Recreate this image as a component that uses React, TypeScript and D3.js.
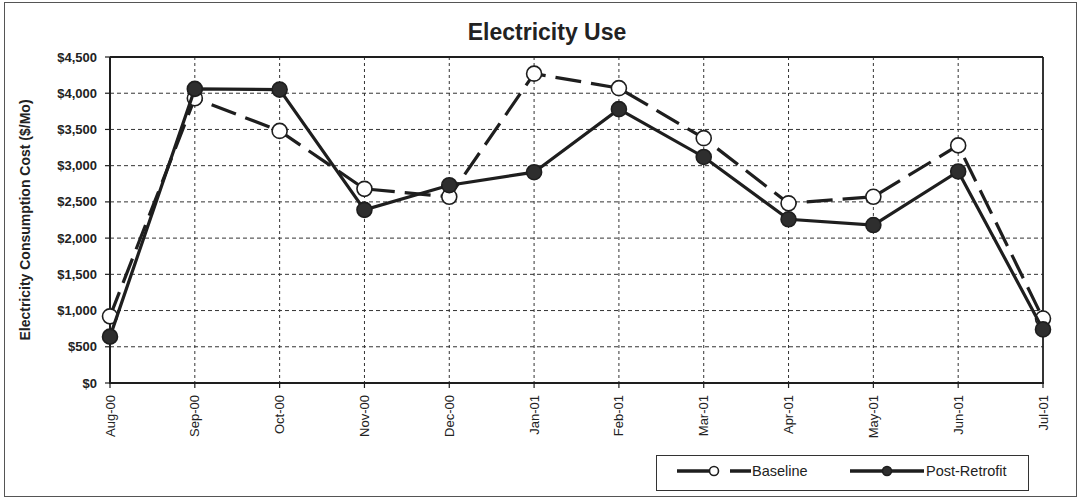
import React from "react";
import * as d3 from "d3";

const months = ["Aug-00", "Sep-00", "Oct-00", "Nov-00", "Dec-00", "Jan-01", "Feb-01", "Mar-01", "Apr-01", "May-01", "Jun-01", "Jul-01"];
const baseline = [920, 3930, 3480, 2680, 2570, 4270, 4070, 3380, 2480, 2570, 3280, 890];
const postRetrofit = [640, 4060, 4050, 2390, 2730, 2910, 3780, 3120, 2260, 2180, 2920, 740];
const yTicks = [0, 500, 1000, 1500, 2000, 2500, 3000, 3500, 4000, 4500];
const title = "Electricity Use";
const yLabel = "Electricity Consumption Cost ($/Mo)";
const seriesNames = ["Baseline", "Post-Retrofit"];

const W = 1081;
const H = 503;
const left = 110;
const right = 1043;
const top = 57;
const bottom = 383;
const ink = "#1e1e1e";

export default function App() {
  const x = d3.scalePoint<string>().domain(months).range([left, right]);
  const y = d3.scaleLinear().domain([0, 4500]).range([bottom, top]);
  const fmt = (v: number) => "$" + d3.format(",")(v);
  const line = d3
    .line<number>()
    .x((_, i) => x(months[i]) as number)
    .y((v) => y(v));

  return (
    <svg width={W} height={H} style={{ position: "absolute", left: 0, top: 0, background: "#fff" }} fontFamily="Arial, 'Liberation Sans', sans-serif">
      <rect x={0} y={0} width={W} height={H} fill="#fff" />
      <rect x={4.5} y={2.5} width={1072} height={494} fill="none" stroke="#555" strokeWidth={1} />
      <text x={547} y={40} textAnchor="middle" fontSize={23} fontWeight="bold" fill="#222">
        {title}
      </text>

      {/* gridlines */}
      {yTicks.slice(1, -1).map((t) => (
        <line key={"gy" + t} x1={left} x2={right} y1={y(t)} y2={y(t)} stroke="#333" strokeWidth={1} strokeDasharray="4,3" />
      ))}
      {months.slice(1, -1).map((m) => (
        <line key={"gx" + m} x1={x(m)} x2={x(m)} y1={top} y2={bottom} stroke="#333" strokeWidth={1} strokeDasharray="3,3" />
      ))}

      {/* plot frame */}
      <line x1={left} x2={right} y1={top} y2={top} stroke={ink} strokeWidth={1.8} />
      <line x1={right} x2={right} y1={top} y2={bottom} stroke={ink} strokeWidth={1.8} />
      <line x1={left} x2={left} y1={top} y2={bottom} stroke={ink} strokeWidth={2} />
      <line x1={left - 1} x2={right + 1} y1={bottom} y2={bottom} stroke={ink} strokeWidth={2} />

      {/* y axis ticks & labels */}
      {yTicks.map((t) => (
        <g key={"yt" + t}>
          <line x1={left - 5} x2={left} y1={y(t)} y2={y(t)} stroke={ink} strokeWidth={1.2} />
          <text x={97} y={y(t)} dy="0.35em" textAnchor="end" fontSize={13} fontWeight="bold" fill="#222">
            {fmt(t)}
          </text>
        </g>
      ))}
      <text
        transform={`translate(30,${(top + bottom) / 2}) rotate(-90)`}
        textAnchor="middle"
        fontSize={14}
        fontWeight="bold"
        fill="#222"
      >
        {yLabel}
      </text>

      {/* x axis ticks & labels */}
      {months.map((m) => (
        <g key={"xt" + m}>
          <line x1={x(m)} x2={x(m)} y1={bottom} y2={bottom + 5} stroke={ink} strokeWidth={1.2} />
          <text
            transform={`translate(${(x(m) as number) + 4.5},${bottom + 12}) rotate(-90)`}
            textAnchor="end"
            fontSize={13}
            fontFamily="'Liberation Sans Narrow', 'Arial Narrow', Arial, sans-serif"
            fill="#222"
          >
            {m}
          </text>
        </g>
      ))}

      {/* baseline series */}
      <path d={line(baseline) || ""} fill="none" stroke={ink} strokeWidth={3.2} strokeDasharray="26,10" />
      {baseline.map((v, i) => (
        <circle key={"b" + i} cx={x(months[i])} cy={y(v)} r={7.5} fill="#fff" stroke={ink} strokeWidth={1.6} />
      ))}

      {/* post-retrofit series */}
      <path d={line(postRetrofit) || ""} fill="none" stroke={ink} strokeWidth={3.2} />
      {postRetrofit.map((v, i) => (
        <circle key={"p" + i} cx={x(months[i])} cy={y(v)} r={7.5} fill="#2e2e2e" stroke={ink} strokeWidth={1.6} />
      ))}

      {/* legend */}
      <rect x={656.5} y={455.5} width={372} height={35} fill="#fff" stroke="#333" strokeWidth={1} />
      <line x1={677} x2={710} y1={471} y2={471} stroke={ink} strokeWidth={3.5} />
      <line x1={730} x2={751} y1={471} y2={471} stroke={ink} strokeWidth={3.5} />
      <circle cx={714} cy={471} r={4.5} fill="#fff" stroke={ink} strokeWidth={1.6} />
      <text x={752} y={471} dy="0.36em" fontSize={14.5} fill="#222">
        {seriesNames[0]}
      </text>
      <line x1={850} x2={924} y1={471} y2={471} stroke={ink} strokeWidth={3.5} />
      <circle cx={887} cy={471} r={4.5} fill="#2e2e2e" stroke={ink} strokeWidth={1.6} />
      <text x={926} y={471} dy="0.36em" fontSize={14.5} fill="#222">
        {seriesNames[1]}
      </text>
    </svg>
  );
}
